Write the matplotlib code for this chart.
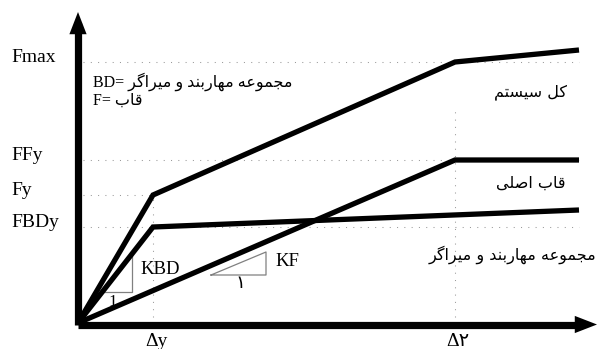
import matplotlib
matplotlib.use('Agg')
import matplotlib.pyplot as plt
from matplotlib.patches import FancyArrowPatch

# ---------------- data (deformation, force) in chart units ----------------
d_y = 75          # Δy
d_2 = 377         # Δ۲
d_end = 501       # end of curves
F_y = 128
F_BDy = 96
F_Fy = 163
F_max = 261

total_disp = [0, d_y, d_2, d_end]
total_force = [0, F_y, F_max, 273]
bd_disp = [0, d_y, d_end]
bd_force = [0, F_BDy, 113]
frame_disp = [0, d_2, d_end]
frame_force = [0, F_Fy, F_Fy]

ytick_labels = ['Fmax', 'FFy', 'Fy', 'FBDy']
ytick_values = [F_max, F_Fy, F_y, F_BDy]
xtick_labels = ['Δy', 'Δ۲']
xtick_values = [d_y, d_2]

# ---------------- simple Persian shaping ----------------
_FORMS = {
    '\u0627': ('\uFE8D', '\uFE8E', None, None),
    '\u0628': ('\uFE8F', '\uFE90', '\uFE91', '\uFE92'),
    '\u062A': ('\uFE95', '\uFE96', '\uFE97', '\uFE98'),
    '\u062C': ('\uFE9D', '\uFE9E', '\uFE9F', '\uFEA0'),
    '\u062F': ('\uFEA9', '\uFEAA', None, None),
    '\u0631': ('\uFEAD', '\uFEAE', None, None),
    '\u0633': ('\uFEB1', '\uFEB2', '\uFEB3', '\uFEB4'),
    '\u0635': ('\uFEB9', '\uFEBA', '\uFEBB', '\uFEBC'),
    '\u0639': ('\uFEC9', '\uFECA', '\uFECB', '\uFECC'),
    '\u0642': ('\uFED5', '\uFED6', '\uFED7', '\uFED8'),
    '\u0644': ('\uFEDD', '\uFEDE', '\uFEDF', '\uFEE0'),
    '\u0645': ('\uFEE1', '\uFEE2', '\uFEE3', '\uFEE4'),
    '\u0646': ('\uFEE5', '\uFEE6', '\uFEE7', '\uFEE8'),
    '\u0647': ('\uFEE9', '\uFEEA', '\uFEEB', '\uFEEC'),
    '\u0648': ('\uFEED', '\uFEEE', None, None),
    '\u06A9': ('\uFB8E', '\uFB8F', '\uFB90', '\uFB91'),
    '\u06AF': ('\uFB92', '\uFB93', '\uFB94', '\uFB95'),
    '\u06CC': ('\uFBFC', '\uFBFD', '\uFBFE', '\uFBFF'),
}


def shape(s):
    out = []
    n = len(s)
    for i, c in enumerate(s):
        if c not in _FORMS:
            out.append(c)
            continue
        f = _FORMS[c]
        prev = s[i - 1] if i > 0 else ''
        nxt = s[i + 1] if i < n - 1 else ''
        jp = prev in _FORMS and _FORMS[prev][2] is not None
        jn = f[2] is not None and nxt in _FORMS
        if jp and jn:
            g = f[3]
        elif jp:
            g = f[1]
        elif jn:
            g = f[2]
        else:
            g = f[0]
        out.append(g)
    return ''.join(reversed(out))


txt_bd = 'مجموعه مهاربند و میراگر'
txt_frame = 'قاب'
txt_total = 'کل سیستم'
txt_main = 'قاب اصلی'

LAT = ['Liberation Serif', 'DejaVu Sans']
FA = ['DejaVu Sans']

# ---------------- figure ----------------
fig = plt.figure(figsize=(5.98, 3.49), dpi=100)
ax = fig.add_axes([0, 0, 1, 1])
ax.set_xlim(-78, 520)
ax.set_ylim(-26, 323)
ax.axis('off')

grid_kw = dict(color='#9a9a9a', lw=0.75, linestyle=(0, (1, 6)), zorder=1)
ax.plot([5, d_end], [F_max, F_max], **grid_kw)
ax.plot([5, d_end], [F_Fy, F_Fy], **grid_kw)
ax.plot([5, d_y], [F_y, F_y], **grid_kw)
ax.plot([5, d_end], [F_BDy, F_BDy], **grid_kw)
ax.plot([d_y, d_y], [6, F_y], **grid_kw)
ax.plot([d_2, d_2], [6, 216], **grid_kw)

line_kw = dict(color='black', lw=3.8, solid_joinstyle='miter', solid_capstyle='butt', zorder=3)
ax.plot(total_disp, total_force, **line_kw)
ax.plot(bd_disp, bd_force, **line_kw)
ax.plot(frame_disp, frame_force, **line_kw)

# axes with arrows
ax.plot([0, 0], [-2, 300], color='black', lw=5.2, solid_capstyle='butt', zorder=4)
ax.plot([0, 505], [-1.5, -1.5], color='black', lw=5.2, solid_capstyle='butt', zorder=4)
for start, end in [((0, 280), (0, 311)), ((480, -1.5), (519, -1.5))]:
    ar = FancyArrowPatch(start, end, arrowstyle='-|>,head_length=16,head_width=6.2',
                         mutation_scale=1, lw=0, color='black', shrinkA=0, shrinkB=0, zorder=5)
    ax.add_patch(ar)

# slope triangles
tri_kw = dict(color='#808080', lw=0.9, zorder=2)
ax.plot([25, 54, 54], [31, 31, 68], **tri_kw)
ax.plot([133, 188, 188, 133], [48, 48, 71, 48], **tri_kw)

# y labels
for lab, v in zip(ytick_labels, ytick_values):
    ax.text(-67, v, lab, family=LAT, fontsize=14, ha='left', va='baseline')
# x labels
for lab, v in zip(xtick_labels, xtick_values):
    ax.text(v + 3, -19, lab, family=LAT, fontsize=14, ha='center', va='center')

ax.text(62, 54, 'KBD', family=LAT, fontsize=13.5, ha='left', va='center')
ax.text(35, 21, '1', family=LAT, fontsize=12, ha='center', va='center')
ax.text(197, 61, 'KF', family=LAT, fontsize=13.5, ha='left', va='center')
ax.text(162, 40, '۱', family=FA, fontsize=13, ha='center', va='center')

ax.text(15, 236, 'BD= ' + shape(txt_bd), family=LAT, fontsize=11.5, ha='left', va='baseline')
ax.text(15, 218, 'F= ' + shape(txt_frame), family=LAT, fontsize=11.5, ha='left', va='baseline')
ax.text(452, 231, shape(txt_total), family=FA, fontsize=11.5, ha='center', va='center')
ax.text(453, 140, shape(txt_main), family=FA, fontsize=11.5, ha='center', va='center')
ax.text(434, 68, shape(txt_bd), family=FA, fontsize=11.5, ha='center', va='center')

fig.savefig('out.png', dpi=100)
